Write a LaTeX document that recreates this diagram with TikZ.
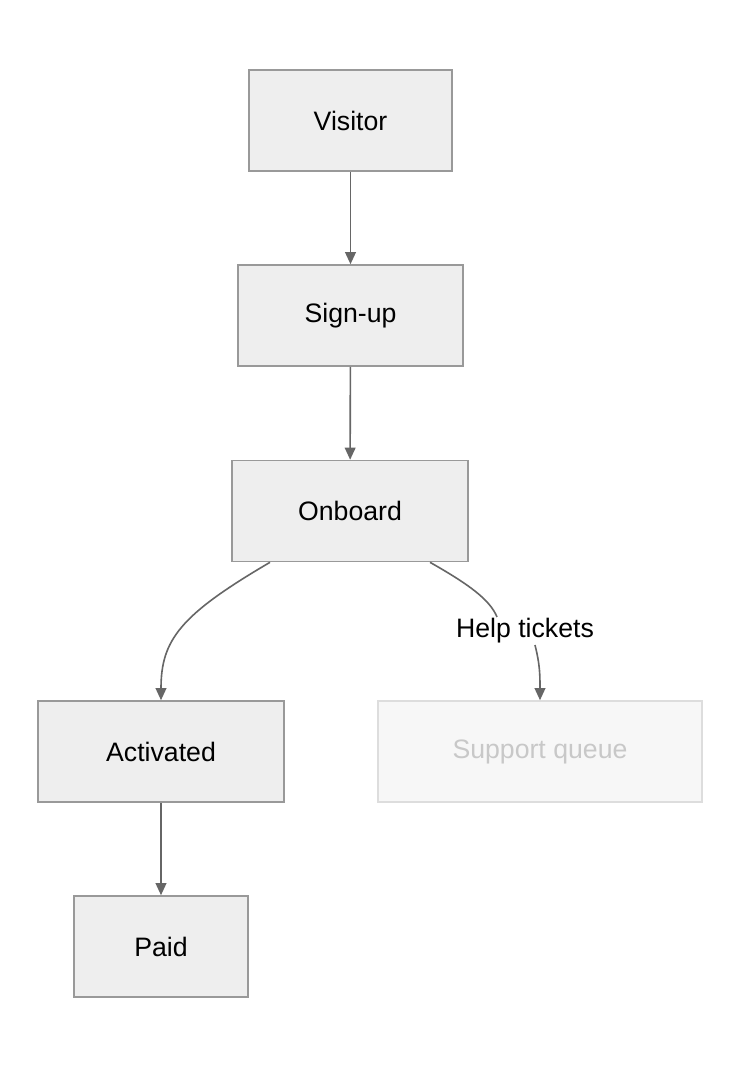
\documentclass[tikz,border=0pt]{standalone}
\usepackage{fontspec}
\setmainfont{Liberation Sans}
\usetikzlibrary{arrows.meta}
\definecolor{boxfill}{HTML}{EEEEEE}
\definecolor{boxline}{HTML}{999999}
\definecolor{edgecol}{HTML}{666666}
\definecolor{fadefill}{HTML}{F7F7F7}
\definecolor{fadeline}{HTML}{DDDDDD}
\definecolor{fadetext}{HTML}{C8C8C8}
\begin{document}
\begin{tikzpicture}[
    x=0.75pt, y=-0.75pt,
    box/.style={rectangle, draw=boxline, fill=boxfill, line width=1.2pt,
      minimum height=75.75pt, font=\fontsize{20}{24}\selectfont},
    faded/.style={box, draw=fadeline, fill=fadefill, text=fadetext},
    arr/.style={draw=edgecol, line width=1.2pt, -{Triangle[length=9pt,width=8pt]}}
  ]
  \fill[white] (0,0) rectangle (740,1068);
  \node[box, minimum width=152.25pt] (visitor) at (350.5,120.5) {Visitor};
  \node[box, minimum width=168.75pt] (signup) at (350.5,315.5) {Sign-up};
  \node[box, minimum width=177pt] (onboard) at (350,511) {Onboard};
  \node[box, minimum width=184.5pt] (activated) at (161,751.5) {Activated};
  \node[faded, minimum width=243pt] (support) at (540,751.5) {Support queue};
  \node[box, minimum width=130.5pt] (paid) at (161,946.5) {Paid};
  \node[font=\fontsize{20}{24}\selectfont, fill=white, inner sep=1pt] (help) at (525,631) {Help tickets};

  \draw[arr] (visitor) -- (signup);
  \draw[arr] (signup) -- (onboard);
  \draw[arr] (onboard.south -| 270,0) .. controls (180,615) and (161,640) .. (activated.north);
  \draw[draw=edgecol, line width=1.2pt] (onboard.south -| 430,0) .. controls (470,585) and (490,600) .. (help.north -| 497,0);
  \draw[arr] (help.south -| 535,0) .. controls (540,665) and (540,675) .. (support.north);
  \draw[arr] (activated) -- (paid);
\end{tikzpicture}
\end{document}
